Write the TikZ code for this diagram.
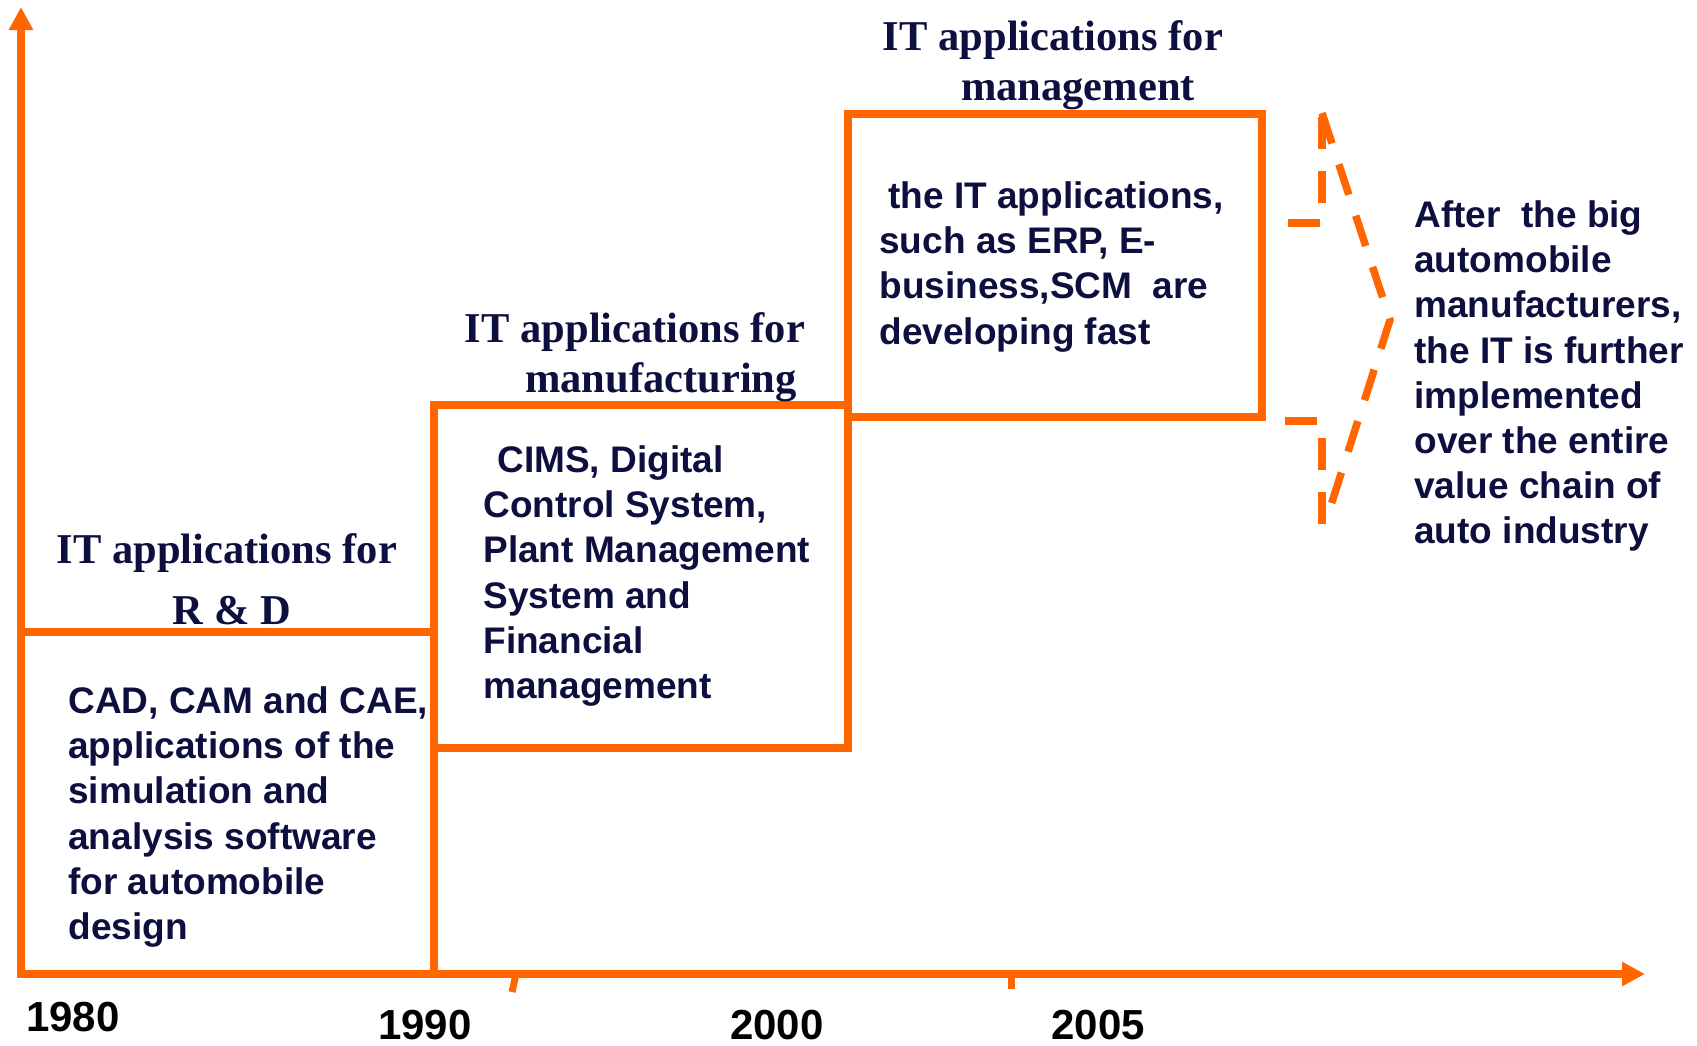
\documentclass[tikz,border=0pt]{standalone}
\usepackage{fontspec}
\setmainfont{Liberation Sans}
\newfontfamily\headfont{Liberation Serif}
\usetikzlibrary{arrows.meta}
\definecolor{org}{HTML}{FF6600}
\definecolor{navy}{HTML}{0D0F3F}
\begin{document}
\begin{tikzpicture}[x=0.5pt,y=-0.5pt,
  axisline/.style={draw=org, line width=3.75pt},
  stagebox/.style={draw=org, line width=3.75pt},
  tickline/.style={draw=org, line width=3.5pt},
  bracedash/.style={draw=org, line width=3.75pt, dash pattern=on 16pt off 11pt},
  bodytext/.style={anchor=north west, inner sep=0pt, align=left, text=navy,
    font=\bfseries\fontsize{18.5}{22.6}\selectfont},
  headtext/.style={anchor=base, inner sep=0pt, text=navy,
    font=\headfont\bfseries\fontsize{21.25}{25}\selectfont},
  yeartext/.style={anchor=base, inner sep=0pt, text=black,
    font=\bfseries\fontsize{21}{25}\selectfont}]
\useasboundingbox (0,0) rectangle (1697,1045);

% stage boxes
\coordinate (b1nw) at (21,632);  \coordinate (b1se) at (434,974);
\coordinate (b2nw) at (434,405); \coordinate (b2se) at (848,748);
\coordinate (b3nw) at (848,114); \coordinate (b3se) at (1262,417);
\draw[stagebox] (b1nw) rectangle (b1se);
\draw[stagebox] (b2nw) rectangle (b2se);
\draw[stagebox] (b3nw) rectangle (b3se);

% axes
\coordinate (O) at (21,974);
\coordinate (ytip) at (21,7);
\coordinate (xtip) at (1645,974);
\draw[axisline, -{Triangle[length=11.5pt,width=11.5pt]}] (O) -- (ytip);
\draw[axisline, -{Triangle[length=11.5pt,width=11.5pt]}] (O) -- (xtip);

% ticks
\coordinate (t1a) at (516,974); \coordinate (t1b) at (512,992);
\coordinate (t2a) at (1011,974); \coordinate (t2b) at (1011,989);
\draw[tickline] (t1a) -- (t1b);
\draw[tickline] (t2a) -- (t2b);

% dashed brace
\coordinate (bt) at (1322,113);
\coordinate (bu) at (1322,223);
\coordinate (bul) at (1288,223);
\coordinate (bl) at (1322,421);
\coordinate (bll) at (1285,421);
\coordinate (bb) at (1322,527);
\coordinate (apex) at (1390,320);
\coordinate (bend) at (1325,524);
\draw[bracedash] (bul) -- (bu) -- (bt);
\draw[bracedash] (bll) -- (bl) -- (bb);
\draw[bracedash] (bt) -- (apex) -- (bend);

% headings
\node[headtext] (h1a) at (227,563) {IT applications for};
\node[headtext] (h1b) at (232,624) {R \& D};
\node[headtext] (h2a) at (635,342) {IT applications for};
\node[headtext] (h2b) at (661,392) {manufacturing};
\node[headtext] (h3a) at (1053,50) {IT applications for};
\node[headtext] (h3b) at (1078,100) {management};

% body texts
\node[bodytext] (t1) at (68,683.4) {\rule{0pt}{0.8em}CAD, CAM and CAE,\\applications of the\\simulation and\\analysis software\\for automobile\\design};
\node[bodytext] (t2) at (483,442.4) {\rule{0pt}{0.8em}\hspace*{7pt}CIMS, Digital\\Control System,\\Plant Management\\System and\\Financial\\management};
\node[bodytext] (t3) at (879,178.4) {\rule{0pt}{0.8em}\hspace*{4.5pt}the IT applications,\\such as ERP, E-\\business,SCM\ \ are\\developing fast};
\node[bodytext] (t4) at (1414,197.4) {\rule{0pt}{0.8em}After\ \ the big\\automobile\\manufacturers,\\the IT is further\\implemented\\over the entire\\value chain of\\auto industry};

% years
\node[yeartext] (y1980) at (73,1031) {1980};
\node[yeartext] (y1990) at (425,1039) {1990};
\node[yeartext] (y2000) at (777,1039) {2000};
\node[yeartext] (y2005) at (1098,1039) {2005};
\end{tikzpicture}
\end{document}
